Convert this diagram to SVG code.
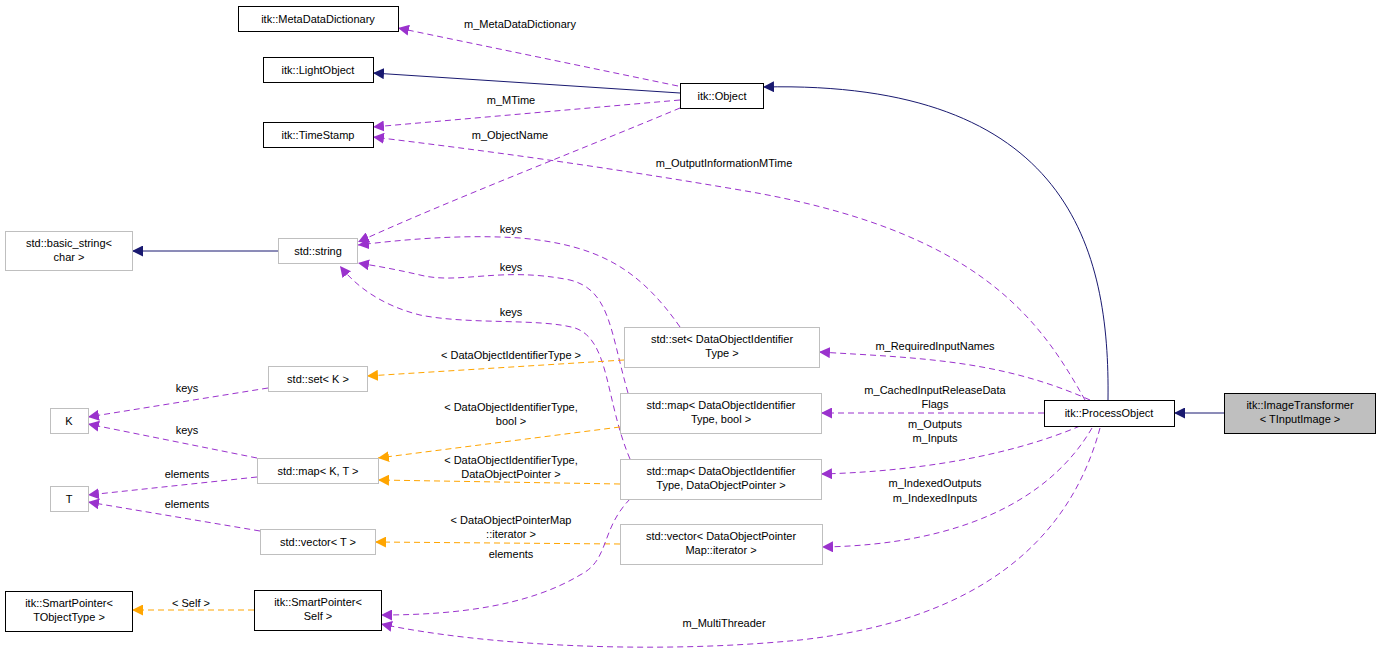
<svg xmlns="http://www.w3.org/2000/svg" width="1380" height="655" viewBox="0 0 1380 655">
<style>
text{font-family:"Liberation Sans",Arial,sans-serif;font-size:11px;fill:#000;text-anchor:middle}
.nb rect{fill:#fff;stroke:#000;stroke-width:1}
.ng rect{fill:#fff;stroke:#bfbfbf;stroke-width:1}
.cur rect{fill:#bfbfbf;stroke:#000}
.inh{fill:none;stroke:#191970;stroke-width:1}
.use{fill:none;stroke:#9a32cd;stroke-width:1;stroke-dasharray:6,4}
.tpl{fill:none;stroke:#ffa500;stroke-width:1;stroke-dasharray:6,4}
</style>
<defs>
<marker id="an" viewBox="0 0 10 10" refX="10" refY="5" markerWidth="11" markerHeight="11" orient="auto-start-reverse" markerUnits="userSpaceOnUse"><path d="M0,0L10,5L0,10z" fill="#191970"/></marker>
<marker id="ap" viewBox="0 0 10 10" refX="10" refY="5" markerWidth="11" markerHeight="11" orient="auto-start-reverse" markerUnits="userSpaceOnUse"><path d="M0,0L10,5L0,10z" fill="#9a32cd"/></marker>
<marker id="ao" viewBox="0 0 10 10" refX="10" refY="5" markerWidth="11" markerHeight="11" orient="auto-start-reverse" markerUnits="userSpaceOnUse"><path d="M0,0L10,5L0,10z" fill="#ffa500"/></marker>
</defs>
<rect width="1380" height="655" fill="#fff"/>
<g id="edges">
<path class="use" marker-end="url(#ap)" d="M678,86 L398,28"/>
<text x="520" y="28">m_MetaDataDictionary</text>
<path class="inh" marker-end="url(#an)" d="M680,93 L373,73"/>
<path class="use" marker-end="url(#ap)" d="M680,100 L373,127"/>
<text x="511" y="104">m_MTime</text>
<path class="use" marker-end="url(#ap)" d="M1085,400 C1040,320 980,230 740,190 C600,166 480,150 373,137"/>
<text x="724" y="167">m_OutputInformationMTime</text>
<path class="use" marker-end="url(#ap)" d="M680,108 C580,150 450,200 358,242"/>
<text x="510" y="139">m_ObjectName</text>
<path class="use" marker-end="url(#ap)" d="M680,327 C640,270 600,245 520,238 C460,234 400,240 358,245"/>
<text x="511" y="233">keys</text>
<path class="use" marker-end="url(#ap)" d="M628,393 C610,330 610,290 570,280 C500,266 460,285 420,275 C390,268 370,265 358,263"/>
<text x="511" y="271">keys</text>
<path class="use" marker-end="url(#ap)" d="M630,459 C605,400 610,340 575,328 C540,318 470,325 420,315 C380,305 355,285 340,266"/>
<text x="511" y="316">keys</text>
<path class="inh" marker-end="url(#an)" d="M278,251 L132,251"/>
<path class="tpl" marker-end="url(#ao)" d="M624,360 L367,376"/>
<text x="511" y="359">&lt; DataObjectIdentifierType &gt;</text>
<path class="tpl" marker-end="url(#ao)" d="M620,427 L378,458"/>
<text x="511" y="411">&lt; DataObjectIdentifierType,</text>
<text x="511" y="425">bool &gt;</text>
<path class="tpl" marker-end="url(#ao)" d="M620,484 L378,480"/>
<text x="511" y="464">&lt; DataObjectIdentifierType,</text>
<text x="511" y="478">DataObjectPointer &gt;</text>
<path class="tpl" marker-end="url(#ao)" d="M620,544 L375,542"/>
<text x="511" y="524">&lt; DataObjectPointerMap</text>
<text x="511" y="538">::iterator &gt;</text>
<path class="use" marker-end="url(#ap)" d="M268,388 L88,417"/>
<text x="187" y="392">keys</text>
<path class="use" marker-end="url(#ap)" d="M257,458 L88,424"/>
<text x="187" y="434">keys</text>
<path class="use" marker-end="url(#ap)" d="M257,477 L88,495"/>
<text x="187" y="478">elements</text>
<path class="use" marker-end="url(#ap)" d="M260,531 L88,502"/>
<text x="187" y="508">elements</text>
<path class="tpl" marker-end="url(#ao)" d="M254,610 L132,610"/>
<text x="191" y="607">&lt; Self &gt;</text>
<path class="use" marker-end="url(#ap)" d="M630,499 C600,530 610,560 580,575 C530,605 460,615 381,615"/>
<text x="511" y="558">elements</text>
<path class="use" marker-end="url(#ap)" d="M1100,428 C1070,540 980,620 800,640 C650,655 480,645 381,624"/>
<text x="724" y="627">m_MultiThreader</text>
<path class="use" marker-end="url(#ap)" d="M1090,400 C1000,360 920,358 819,352"/>
<text x="935" y="350">m_RequiredInputNames</text>
<path class="use" marker-end="url(#ap)" d="M1044,413 L821,413"/>
<text x="935" y="394">m_CachedInputReleaseData</text>
<text x="935" y="408">Flags</text>
<path class="use" marker-end="url(#ap)" d="M1080,426 C1000,460 900,472 821,474"/>
<text x="935" y="428">m_Outputs</text>
<text x="935" y="442">m_Inputs</text>
<path class="use" marker-end="url(#ap)" d="M1092,428 C1050,500 960,545 822,547"/>
<text x="935" y="487">m_IndexedOutputs</text>
<text x="935" y="502">m_IndexedInputs</text>
<path class="inh" marker-end="url(#an)" d="M1108,400 C1110,250 1070,80 763,87"/>
<path class="inh" marker-end="url(#an)" d="M1224,413 L1174,413"/>
</g>
<g id="n_meta" class="nb"><rect x="238.5" y="6.5" width="160" height="25"/><text x="318" y="23">itk::MetaDataDictionary</text></g>
<g id="n_light" class="nb"><rect x="263.5" y="57.5" width="110" height="25"/><text x="318" y="74">itk::LightObject</text></g>
<g id="n_ts" class="nb"><rect x="263.5" y="122.5" width="110" height="25"/><text x="318" y="139">itk::TimeStamp</text></g>
<g id="n_obj" class="nb"><rect x="680.5" y="83.5" width="83" height="25"/><text x="722" y="100">itk::Object</text></g>
<g id="n_bstr" class="ng"><rect x="5.5" y="231.5" width="127" height="39"/><text x="69" y="247">std::basic_string&lt;</text><text x="69" y="261">char &gt;</text></g>
<g id="n_str" class="ng"><rect x="278.5" y="238.5" width="79" height="25"/><text x="318" y="255">std::string</text></g>
<g id="n_setK" class="ng"><rect x="268.5" y="366.5" width="99" height="25"/><text x="318" y="383">std::set&lt; K &gt;</text></g>
<g id="n_K" class="ng"><rect x="50.5" y="408.5" width="38" height="25"/><text x="69" y="425">K</text></g>
<g id="n_mapKT" class="ng"><rect x="257.5" y="458.5" width="121" height="25"/><text x="318" y="475">std::map&lt; K, T &gt;</text></g>
<g id="n_T" class="ng"><rect x="50.5" y="486.5" width="38" height="25"/><text x="69" y="503">T</text></g>
<g id="n_vecT" class="ng"><rect x="260.5" y="529.5" width="115" height="25"/><text x="318" y="546">std::vector&lt; T &gt;</text></g>
<g id="n_spT" class="nb"><rect x="5.5" y="591.5" width="127" height="40"/><text x="69" y="607">itk::SmartPointer&lt;</text><text x="69" y="621">TObjectType &gt;</text></g>
<g id="n_spS" class="nb"><rect x="254.5" y="590.5" width="127" height="40"/><text x="318" y="606">itk::SmartPointer&lt;</text><text x="318" y="620">Self &gt;</text></g>
<g id="n_setD" class="ng"><rect x="624.5" y="327.5" width="195" height="40"/><text x="722" y="343">std::set&lt; DataObjectIdentifier</text><text x="722" y="357">Type &gt;</text></g>
<g id="n_mapB" class="ng"><rect x="620.5" y="393.5" width="201" height="40"/><text x="721" y="409">std::map&lt; DataObjectIdentifier</text><text x="721" y="423">Type, bool &gt;</text></g>
<g id="n_mapP" class="ng"><rect x="620.5" y="459.5" width="201" height="40"/><text x="721" y="475">std::map&lt; DataObjectIdentifier</text><text x="721" y="489">Type, DataObjectPointer &gt;</text></g>
<g id="n_vecP" class="ng"><rect x="620.5" y="524.5" width="202" height="40"/><text x="721" y="540">std::vector&lt; DataObjectPointer</text><text x="721" y="554">Map::iterator &gt;</text></g>
<g id="n_po" class="nb"><rect x="1044.5" y="400.5" width="130" height="26"/><text x="1109" y="417">itk::ProcessObject</text></g>
<g id="n_it" class="nb cur"><rect x="1224.5" y="393.5" width="151" height="40"/><text x="1300" y="409">itk::ImageTransformer</text><text x="1300" y="423">&lt; TInputImage &gt;</text></g>
</svg>
